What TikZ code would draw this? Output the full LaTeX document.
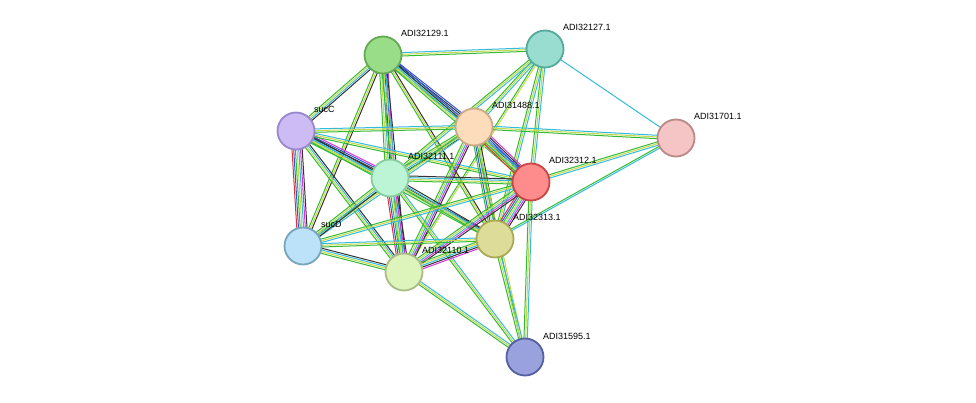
\documentclass[tikz,border=0pt]{standalone}
\usepackage{fontspec}
\setmainfont{Liberation Sans}
\usetikzlibrary{calc,backgrounds}
\definecolor{gn}{HTML}{33BB33}
\definecolor{yl}{HTML}{C8D84A}
\definecolor{cy}{HTML}{33BBDD}
\definecolor{bl}{HTML}{3355DD}
\definecolor{bk}{HTML}{333333}
\definecolor{mg}{HTML}{DD33DD}
\definecolor{rd}{HTML}{DD3333}
\newcommand\E[3]{\def\nn{0}\foreach \c in {#3}{\xdef\nn{\the\numexpr\nn+1\relax}}%
\foreach \c [count=\i] in {#3}{\pgfmathsetmacro\k{(\i-(\nn+1)/2)*1.7}%
\draw[\c,line width=1pt] ($(#1)!\k pt!90:(#2)$) -- ($(#2)!\k pt!-90:(#1)$);}}
\tikzset{prot/.style={circle,minimum size=37pt,inner sep=0pt,line width=1.8pt},
lab/.style={anchor=base west,font=\fontsize{9}{10}\selectfont,inner sep=0pt}}
\begin{document}
\begin{tikzpicture}[x=1pt,y=-1pt]
\useasboundingbox (0,0) rectangle (976,403);
\foreach \n/\x/\y/\f/\d/\t in {A/383/55/99DD88/66AA55/ADI32129.1,B/545/49/99DDD0/55AA99/ADI32127.1,C/296/131/CCBBF5/9988CC/sucC,D/474/127/FDDCBB/CCAA88/ADI31488.1,F/676/138/F5C5C5/BB8888/ADI31701.1,G/390/178/BBF5D5/88CCA0/ADI32111.1,H/531/182/FF8C8C/CC4444/ADI32312.1,S/303/246/BBE2F8/77A5BB/sucD,I/495/239/DDDD99/AAAA55/ADI32313.1,J/404/272/DDF5BB/AABB88/ADI32110.1,K/525/357/99A2DD/5560A0/ADI31595.1}{
\definecolor{f\n}{HTML}{\f}\definecolor{d\n}{HTML}{\d}
\node[prot,fill=f\n,draw=d\n] (\n) at (\x,\y) {};
\node[lab] (L\n) at (\x+18,\y-18) {\t};}
\begin{pgfonlayer}{background}
\fill[white] (0,0) rectangle (976,403);
\E{A}{B}{gn,yl,cy}\E{A}{C}{gn,yl,cy,bk}\E{A}{D}{gn,yl,cy,bk,bl}\E{A}{G}{gn,yl,cy,bk,bl,mg}
\E{A}{H}{gn,yl,cy,bk,bl}\E{A}{S}{gn,yl,bk}\E{A}{I}{gn,yl,bk}\E{A}{J}{gn,yl,cy,bk}
\E{B}{D}{gn,yl,cy}\E{B}{G}{gn,yl,cy}\E{B}{H}{gn,yl,cy}\E{B}{I}{gn,yl,cy}\E{B}{J}{gn,yl}\E{B}{F}{cy}
\E{C}{D}{gn,yl,cy}\E{C}{G}{gn,yl,cy,bk,bl,mg}\E{C}{H}{gn,yl,cy}\E{C}{S}{rd,bl,gn,yl,cy,mg,bk}\E{C}{I}{gn,yl,cy,bk}\E{C}{J}{gn,yl,cy,bk}
\E{D}{F}{gn,yl,cy}\E{D}{G}{gn,yl,cy,bk}\E{D}{H}{rd,gn,yl,cy,bl,bk,mg}\E{D}{S}{gn,yl,cy}\E{D}{I}{gn,bl,yl,cy,bk}\E{D}{J}{gn,yl,cy,mg,bk}\E{D}{K}{gn,yl}
\E{F}{H}{gn,yl,cy}\E{F}{I}{gn,cy}
\E{G}{H}{gn,yl,cy,bk}\E{G}{S}{gn,yl,cy,bk}\E{G}{I}{gn,yl,cy,bk}\E{G}{J}{rd,bl,gn,yl,cy,mg,bk}\E{G}{K}{gn,yl,cy}
\E{H}{S}{gn,yl,cy}\E{H}{I}{rd,bl,gn,yl,cy,mg,bk}\E{H}{J}{gn,yl,cy,mg,bk}\E{H}{K}{gn,yl,cy}
\E{S}{I}{gn,yl,cy}\E{S}{J}{gn,yl,cy,bk}
\E{I}{J}{gn,yl,cy,bk,mg}\E{I}{K}{gn,yl,cy}\E{J}{K}{gn,yl,cy}
\end{pgfonlayer}
\end{tikzpicture}
\end{document}
